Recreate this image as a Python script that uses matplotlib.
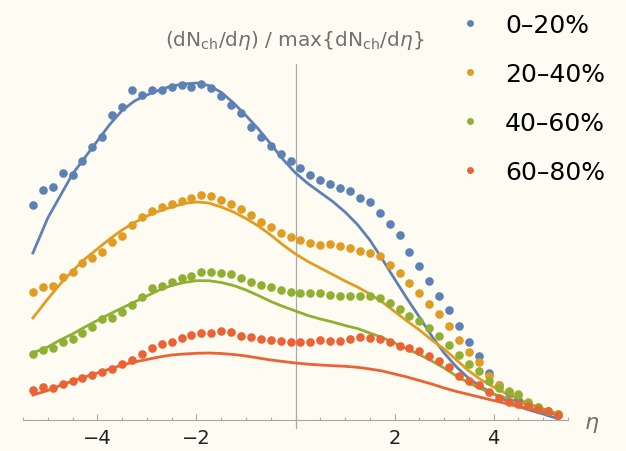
import matplotlib

matplotlib.use("Agg")
import matplotlib.pyplot as plt
from matplotlib.lines import Line2D
from matplotlib.ticker import FixedLocator, NullFormatter

# pseudorapidity bins of the data points
eta = [-5.3, -5.1, -4.9, -4.7, -4.5, -4.3, -4.1, -3.9, -3.7, -3.5,
       -3.3, -3.1, -2.9, -2.7, -2.5, -2.3, -2.1, -1.9, -1.7, -1.5,
       -1.3, -1.1, -0.9, -0.7, -0.5, -0.3, -0.1, 0.1, 0.3, 0.5,
       0.7, 0.9, 1.1, 1.3, 1.5, 1.7, 1.9, 2.1, 2.3, 2.5,
       2.7, 2.9, 3.1, 3.3, 3.5, 3.7, 3.9, 4.1, 4.3, 4.5,
       4.7, 4.9, 5.1, 5.3]

# dNch/deta, arbitrary units
data_0_20 = [215, 230, 233, 247, 245, 259, 273, 283, 305, 313,
             330, 325, 330, 330, 333, 335, 333, 336, 332, 324,
             315, 307, 293, 283, 274, 266, 259, 252, 244.5, 239.5,
             236, 232, 229, 222, 218, 207, 196, 185, 168, 154,
             139, 124, 110, 94, 78, 64, 47, 35, 27, 20,
             15, 11, 8, 5]
data_20_40 = [128, 133, 134, 143, 148, 157, 162, 168, 178, 184,
              194.5, 202.5, 208.5, 213, 215.5, 219, 222, 225, 224, 220,
              216, 211, 205, 198, 192.5, 186.7, 182.7, 179.5, 177, 175.3,
              175.5, 174.3, 172, 169.3, 167, 163.7, 155, 147, 137, 127,
              116, 106, 94, 80, 68, 58, 44, 35, 29, 26,
              18, 13, 9, 6]
data_40_60 = [66, 70, 72, 77.5, 80.5, 87, 92.7, 101, 101.5, 108,
              115, 123.3, 131.7, 133.5, 137.7, 142, 144.3, 147.7, 148, 147.3,
              145.5, 142.3, 137.7, 135.2, 132.7, 130.3, 128.3, 126.5, 126.5, 126.7,
              125.3, 124.3, 123.7, 123.7, 123.7, 121.7, 117, 111, 104, 98.5,
              91.5, 84, 75, 64.7, 55.5, 48.7, 39, 32, 27.7, 25,
              17, 12.7, 9, 5.5]
data_60_80 = [30, 33, 32, 36, 39, 42, 45, 48.3, 51.3, 55.7,
              59.7, 66.3, 71.8, 75.5, 78, 82.3, 85, 86.8, 86.5, 88.5,
              88, 84.3, 82.7, 81, 79.7, 79.3, 78, 77.7, 77.7, 80.3,
              79.3, 79.3, 81, 82.7, 82.3, 81, 77.7, 74.3, 71.5, 68.5,
              64.3, 59, 53, 44, 38.8, 35, 27.7, 21.7, 18, 15.5,
              13.5, 11, 8.5, 5]

# model curves, same units
eta_model = [-5.3, -5.0, -4.75, -4.5, -4.25, -4.0, -3.75, -3.5, -3.25, -3.0,
             -2.75, -2.5, -2.25, -2.0, -1.75, -1.5, -1.25, -1.0, -0.75, -0.5,
             -0.25, 0.0, 0.25, 0.5, 0.75, 1.0, 1.25, 1.5, 1.75, 2.0,
             2.25, 2.5, 2.75, 3.0, 3.25, 3.5, 3.75, 4.0, 4.25, 4.5,
             4.75, 5.0, 5.3]
model_0_20 = [167, 202, 224, 246, 262.5, 279, 295.5, 309.5, 319, 325,
              330, 334, 336, 337, 334.5, 327.7, 317, 304.5, 291, 276,
              260.5, 247, 236.5, 227.5, 218.5, 208, 195.5, 180, 161, 141,
              121.5, 103, 84, 67, 53, 41.5, 33, 26, 19.5, 13.5,
              9.5, 6, 1.2]
model_20_40 = [102, 121, 136, 149, 161, 171, 181, 190, 197.5, 204,
               209, 213, 216.5, 218, 217, 213, 208, 201.5, 194, 185,
               175, 166, 158.5, 152, 145.5, 139, 133, 126, 118, 108.5,
               99, 90, 80, 71, 60, 49, 40, 33, 26.5, 21,
               15.5, 11, 5]
model_40_60 = [67, 73, 80, 86, 93, 99.5, 106, 112, 118, 124,
               130, 134.5, 137.5, 139.3, 139.3, 137.5, 134.5, 130, 124.5, 118.5,
               113.5, 109, 104.5, 101, 98, 94.5, 91.5, 87, 82.5, 77,
               71, 65.5, 59, 52, 44, 37, 31, 26, 22, 18,
               14.5, 11, 6]
model_60_80 = [25, 29.5, 34.5, 39, 43, 47, 51, 55, 58, 60.5,
               63, 65, 66, 66.7, 67, 66.5, 65.5, 64, 62, 60,
               58.5, 57, 55.8, 55, 54.3, 53.7, 52.7, 51, 49, 46,
               43, 39.5, 36, 32, 28.5, 25.5, 22.5, 19.5, 16.5, 13.5,
               11, 8.5, 5]

labels = ["0\u201320%", "20\u201340%", "40\u201360%", "60\u201380%"]
colors = ["#5e81b5", "#e19c24", "#8fb032", "#eb6235"]
punkty = [data_0_20, data_20_40, data_40_60, data_60_80]
krzywe = [model_0_20, model_20_40, model_40_60, model_60_80]

norm = max(data_0_20)
tlo = "#fefcf2"
szary = "#a8a8a8"

fig = plt.figure(figsize=(6.26, 4.52), dpi=100)
fig.patch.set_facecolor(tlo)
ax = fig.add_axes([23 / 626, 22 / 452, 545 / 626, 365 / 452])
ax.set_facecolor(tlo)

for y_mod, y_dat, c in zip(krzywe, punkty, colors):
    ax.plot(eta_model, [v / norm for v in y_mod], color=c, lw=2.0, zorder=2,
            solid_joinstyle="round")
    ax.plot(eta, [v / norm for v in y_dat], "o", color=c, ms=6.2, mec="none", zorder=3)

ax.set_xlim(-5.5, 5.5)
ax.set_ylim(-0.0268, 1.0595)

for s in ["top", "right", "left"]:
    ax.spines[s].set_visible(False)
ax.spines["bottom"].set_position(("data", 0))
ax.spines["bottom"].set_color(szary)
ax.axvline(0, color=szary, lw=0.9, zorder=1)

ax.set_yticks([])
ax.xaxis.set_major_locator(FixedLocator([-4, -2, 2, 4]))
ax.xaxis.set_minor_locator(FixedLocator([-5.5, -5, -4.5, -3.5, -3, -2.5, -1.5, -1, -0.5, 0,
                                         0.5, 1, 1.5, 2.5, 3, 3.5, 4.5, 5, 5.5]))
ax.xaxis.set_minor_formatter(NullFormatter())
ax.tick_params(axis="x", which="major", direction="in", length=4, width=0.8,
               color=szary, labelsize=14, pad=6, labelcolor="#222222")
ax.tick_params(axis="x", which="minor", direction="in", length=2.5, width=0.8,
               color=szary)

fig.text(295 / 626, 1 - 40 / 452,
         r"(dN$_\mathregular{ch}$/d$\eta$) / max{dN$_\mathregular{ch}$/d$\eta$}",
         ha="center", va="center", color="#707070", fontsize=14.5)
fig.text(592 / 626, 1 - 425 / 452, r"$\eta$", ha="center", va="center",
         color="#707070", fontsize=16)

uchwyty = [Line2D([], [], ls="none", marker="o", ms=5, mec="none", color=c)
           for c in colors]
fig.legend(uchwyty, labels, loc="upper left", bbox_to_anchor=(460 / 626, 1 - 14 / 452),
           frameon=False, fontsize=18, handlelength=0.8, handletextpad=1.0,
           labelspacing=1.0, borderpad=0, borderaxespad=0)

plt.savefig("out.png", dpi=100, facecolor=tlo)
plt.close()
